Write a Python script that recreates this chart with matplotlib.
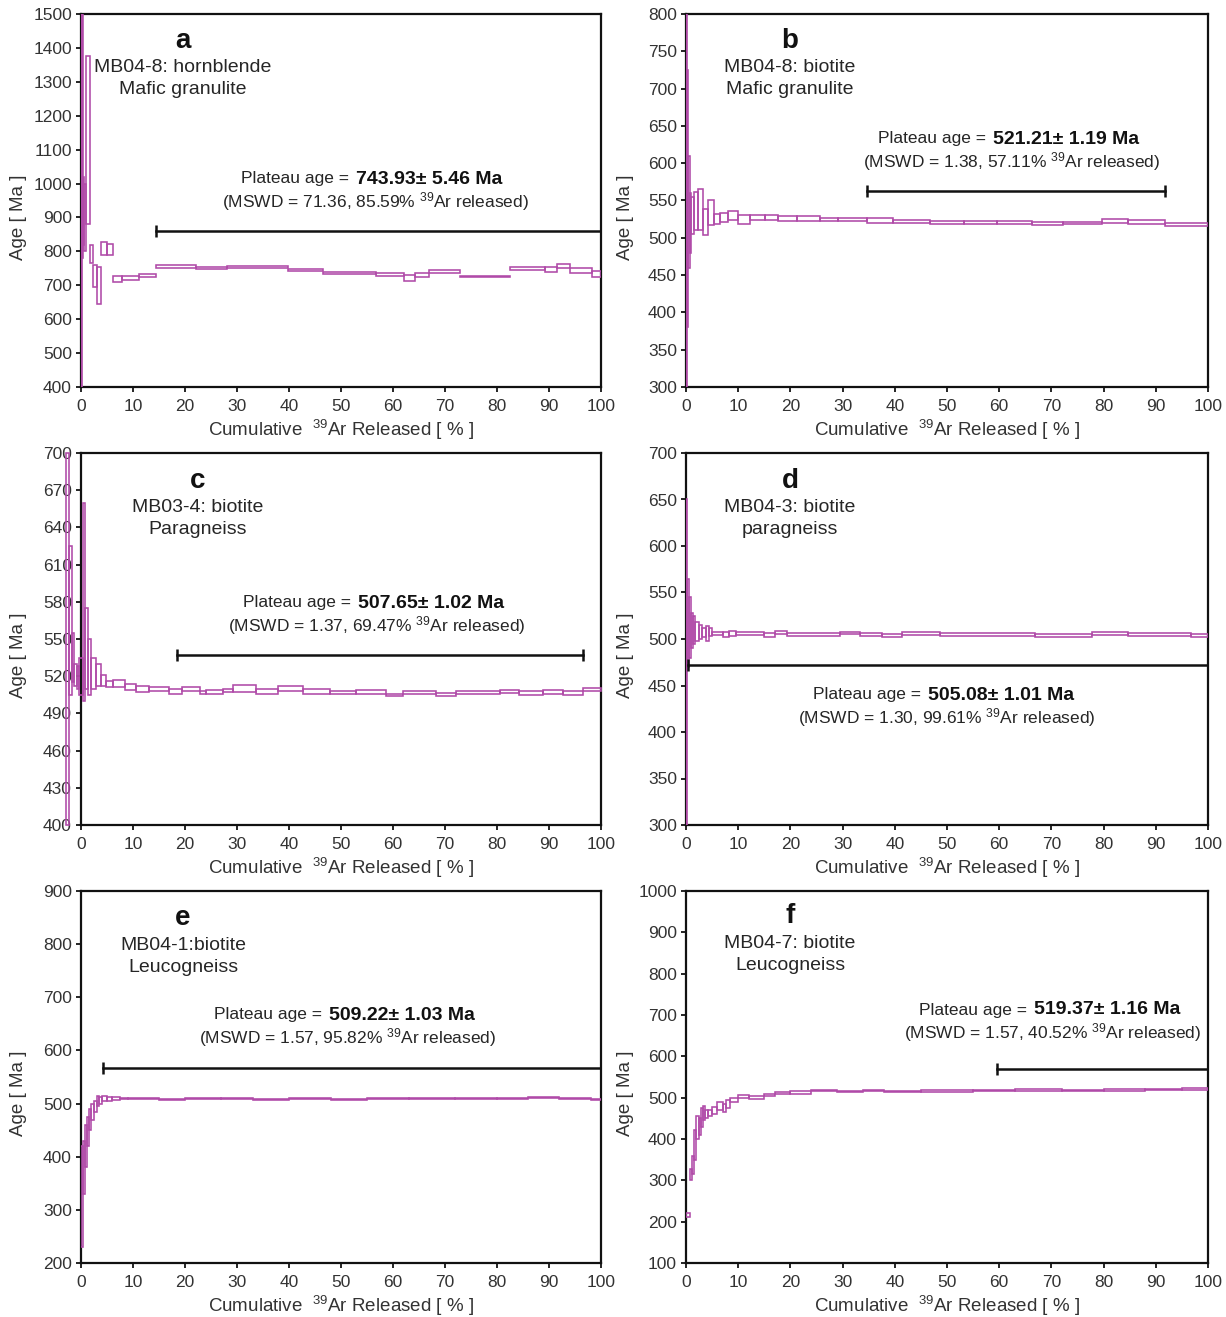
import matplotlib
matplotlib.use('Agg')
import matplotlib.pyplot as plt
from matplotlib.patches import Rectangle

plt.rcParams['font.family'] = ['Liberation Sans', 'DejaVu Sans']
plt.rcParams['mathtext.fontset'] = 'custom'
plt.rcParams['mathtext.rm'] = 'Liberation Sans'
plt.rcParams['mathtext.default'] = 'regular'

STEP_COLOR = '#b04aa8'
TEXT_COLOR = '#262626'

# ---- step heating data: cumulative 39Ar edges [%], age box low / high [Ma]
A_EDGES = [0, 0.2, 0.4, 0.6, 0.9, 1.7, 2.3, 3.1, 3.9, 5.0, 6.1, 7.8, 11.2, 14.4, 22.1, 28.0,
           39.8, 46.5, 56.8, 62.2, 64.2, 67.0, 72.8, 82.5, 89.3, 91.5, 94.1, 98.3, 100]
A_LO = [400, 780, 820, 800, 880, 765, 696, 645, 790, 790, 711, 716, 723, 752, 748, 750,
        742, 734, 728, 713, 723, 735, 723, 745, 740, 750, 737, 723]
A_HI = [1500, 1500, 1020, 1000, 1375, 820, 760, 755, 827, 821, 726, 728, 734, 760, 755, 756,
        749, 740, 735, 730, 737, 745, 728, 753, 753, 762, 750, 742]

B_EDGES = [0, 0.2, 0.4, 0.7, 1.0, 1.5, 2.3, 3.3, 4.3, 5.3, 6.5, 8.0, 10.0, 12.3, 15.2, 17.6,
           21.3, 25.7, 29.2, 34.6, 39.6, 46.8, 53.3, 59.5, 66.2, 72.3, 79.6, 84.7, 91.8, 100]
B_LO = [300, 380, 460, 480, 505, 511, 511, 504, 517, 518, 521, 524, 519, 524, 524, 522,
        523, 523, 522.5, 520, 520, 518.5, 519, 519, 517, 518.5, 519.4, 519, 516]
B_HI = [800, 725, 610, 560, 555, 562, 566, 538, 551, 532, 533, 536, 530, 531, 531, 529,
        529, 527, 527, 526, 524, 522.5, 523, 522.5, 521.6, 521.6, 524.8, 524, 520]

C_EDGES = [-2.9, -2.4, -1.8, -1.3, -0.8, -0.3, 0.3, 0.8, 1.3, 1.9, 2.9, 3.8, 4.8, 6.1, 8.4,
           10.5, 13.0, 17.0, 19.5, 22.9, 24.1, 27.3, 29.2, 33.7, 37.9, 42.6, 47.8, 52.9,
           58.7, 61.9, 68.3, 72.1, 80.5, 84.3, 88.8, 92.6, 96.5, 100]
C_LO = [400, 505, 515, 512, 510, 505, 500, 510, 505, 510, 512, 512, 511, 511, 509, 507,
        508, 506, 508, 506, 506, 507, 507.5, 506, 508, 506, 505.6, 506, 504, 505.6, 504,
        506, 506.7, 505, 506, 505, 508]
C_HI = [700, 625, 555, 530, 528, 535, 660, 575, 550, 535, 530, 521, 516, 517, 514, 512,
        511, 510, 511, 508, 509, 510, 512.7, 510, 512, 509.6, 508, 509, 506, 508, 506.7,
        508, 509, 508, 509, 508, 510.6]

D_EDGES = [0, 0.25, 0.5, 0.9, 1.3, 1.8, 2.4, 3.0, 3.8, 4.4, 5.0, 7.0, 8.2, 9.6, 15.0, 17.0,
           19.3, 29.5, 33.3, 37.5, 41.3, 48.6, 66.8, 77.7, 84.7, 96.8, 100]
D_LO = [300, 470, 480, 490, 495, 498, 500, 502, 498, 503, 504, 502, 503, 504, 502, 505,
        503, 505, 503, 502, 504, 503, 502, 504, 503, 502]
D_HI = [650, 565, 545, 528, 525, 518, 515, 512, 514, 512, 508, 508, 509, 507, 506, 509,
        506, 508, 506, 505, 507.5, 506, 505, 507, 506, 505]

E_EDGES = [0, 0.4, 0.8, 1.2, 1.6, 2.0, 2.5, 3.0, 3.5, 4.0, 5.0, 6.0, 7.5, 9.0, 15.0, 20.0,
           27.0, 33.0, 40.0, 48.0, 55.0, 63.0, 72.0, 80.0, 86.0, 92.0, 98.0, 100]
E_LO = [230, 330, 380, 420, 450, 470, 485, 495, 500, 505, 505, 506, 508, 508, 506, 509,
        508, 507, 508, 507, 508, 509, 508, 509, 510, 508, 507]
E_HI = [420, 430, 460, 475, 490, 500, 505, 515, 512, 514, 512, 512, 511, 511, 509, 511,
        510, 509, 510, 509, 510, 511, 510, 511, 512, 510, 509]

F_EDGES = [0, 0.8, 1.2, 1.6, 2.0, 2.4, 2.8, 3.2, 3.6, 4.2, 5.0, 6.0, 7.0, 7.6, 8.5, 10.0,
           12.0, 15.0, 17.0, 20.0, 24.0, 29.0, 34.0, 38.0, 45.0, 55.0, 63.0, 72.0, 80.0,
           88.0, 95.0, 100]
F_LO = [212, 300, 315, 350, 400, 410, 430, 445, 450, 455, 460, 470, 465, 475, 490, 498,
        496, 505, 508, 510, 515, 513, 515, 513, 514, 515, 516, 515, 517, 518, 519]
F_HI = [222, 328, 360, 422, 455, 450, 475, 480, 470, 470, 478, 490, 485, 495, 500, 506,
        503, 510, 513, 515, 519, 517, 519, 517, 518, 519, 520, 519, 521, 522, 523]

# ---- per panel labels and plateau results
LETTERS = ['a', 'b', 'c', 'd', 'e', 'f']
SAMPLES = ['MB04-8: hornblende', 'MB04-8: biotite', 'MB03-4: biotite',
           'MB04-3: biotite', 'MB04-1:biotite', 'MB04-7: biotite']
ROCKS = ['Mafic granulite', 'Mafic granulite', 'Paragneiss',
         'paragneiss', 'Leucogneiss', 'Leucogneiss']
PLATEAU_AGE = ['743.93', '521.21', '507.65', '505.08', '509.22', '519.37']
PLATEAU_ERR = ['5.46', '1.19', '1.02', '1.01', '1.03', '1.16']
MSWD = ['71.36', '1.38', '1.37', '1.30', '1.57', '1.57']
AR_PCT = ['85.59', '57.11', '69.47', '99.61', '95.82', '40.52']
PLATEAU_FROM = [14.4, 34.6, 18.4, 0.39, 4.2, 59.5]
PLATEAU_TO = [100, 91.8, 96.6, 100, 100, 100]
PLATEAU_Y = [860, 563, 537, 472, 566, 569]
YLIMS = [(400, 1500), (300, 800), (400, 700), (300, 700), (200, 900), (100, 1000)]
YSTEPS = [100, 50, 30, 50, 100, 100]

STEPS = [(A_EDGES, A_LO, A_HI), (B_EDGES, B_LO, B_HI), (C_EDGES, C_LO, C_HI),
         (D_EDGES, D_LO, D_HI), (E_EDGES, E_LO, E_HI), (F_EDGES, F_LO, F_HI)]

W, H = 1226, 1317
fig = plt.figure(figsize=(W / 100, H / 100), dpi=100)

# axes frames in pixels (left, top, right, bottom)
BOXES = [(81, 14, 601, 387), (686, 14, 1208, 387),
         (81, 453, 601, 825), (686, 453, 1208, 825),
         (81, 891, 601, 1263), (686, 891, 1208, 1263)]
# text anchors in pixels: title centre x, title y, plateau split x, plateau y
TITLE_POS = [(183, 41), (790, 41), (198, 481), (790, 481), (183, 918), (790, 916)]
PLAT_POS = [(355, 179), (992, 139), (357, 603), (927, 695), (328, 1015), (1033, 1010)]


def fx(px):
    return px / W


def fy(py):
    return 1 - py / H


for i, (edges, lo, hi) in enumerate(STEPS):
    l, t, r, b = BOXES[i]
    ax = fig.add_axes([fx(l), fy(b), (r - l) / W, (b - t) / H])
    ymin, ymax = YLIMS[i]

    for x0, x1, y0, y1 in zip(edges[:-1], edges[1:], lo, hi):
        ax.add_patch(Rectangle((x0, y0), x1 - x0, y1 - y0, fill=False,
                               edgecolor=STEP_COLOR, lw=1.15, zorder=3,
                               clip_on=(i != 2)))

    ax.plot([PLATEAU_FROM[i], PLATEAU_TO[i]], [PLATEAU_Y[i]] * 2, color='#111111',
            lw=1.8, marker='|', markersize=9, mew=1.8, zorder=4)

    ax.set_xlim(0, 100)
    ax.set_ylim(ymin, ymax)
    ax.set_xticks(range(0, 101, 10))
    ax.set_yticks(range(ymin, ymax + 1, YSTEPS[i]))
    for s in ax.spines.values():
        s.set_linewidth(1.6)
        s.set_color('#111111')
    ax.tick_params(direction='out', length=3.5, width=1.2, labelsize=12.5,
                   labelcolor='#333333')
    ax.tick_params(axis='x', pad=5)
    ax.tick_params(axis='y', pad=3)
    ax.set_xlabel(r'Cumulative  $^{39}$Ar Released [ % ]', fontsize=13.5, color='#333333')
    ax.set_ylabel('Age [ Ma ]', fontsize=13.5, color='#333333')
    ax.xaxis.set_label_coords(0.5, -0.082)
    ax.yaxis.set_label_coords(-0.104 if i % 2 == 0 else -0.1, 0.455)

    cx, ty = TITLE_POS[i]
    fig.text(fx(cx), fy(ty), LETTERS[i], ha='center', va='center', fontsize=20,
             fontweight='bold', color='#111111')
    fig.text(fx(cx), fy(ty + 27), SAMPLES[i], ha='center', va='center', fontsize=14,
             color=TEXT_COLOR)
    fig.text(fx(cx), fy(ty + 49), ROCKS[i], ha='center', va='center', fontsize=14,
             color=TEXT_COLOR)

    sx, py = PLAT_POS[i]
    fig.text(fx(sx - 1), fy(py), 'Plateau age = ', ha='right', va='center',
             fontsize=12.5, color=TEXT_COLOR)
    fig.text(fx(sx + 1), fy(py), '%s\u00b1 %s Ma' % (PLATEAU_AGE[i], PLATEAU_ERR[i]),
             ha='left', va='center', fontsize=14, fontweight='bold', color='#111111')
    fig.text(fx(sx + 20), fy(py + 23),
             r'(MSWD = %s, %s%% $^{39}$Ar released)' % (MSWD[i], AR_PCT[i]),
             ha='center', va='center', fontsize=12.5, color=TEXT_COLOR)

fig.savefig('out.png', dpi=100)
